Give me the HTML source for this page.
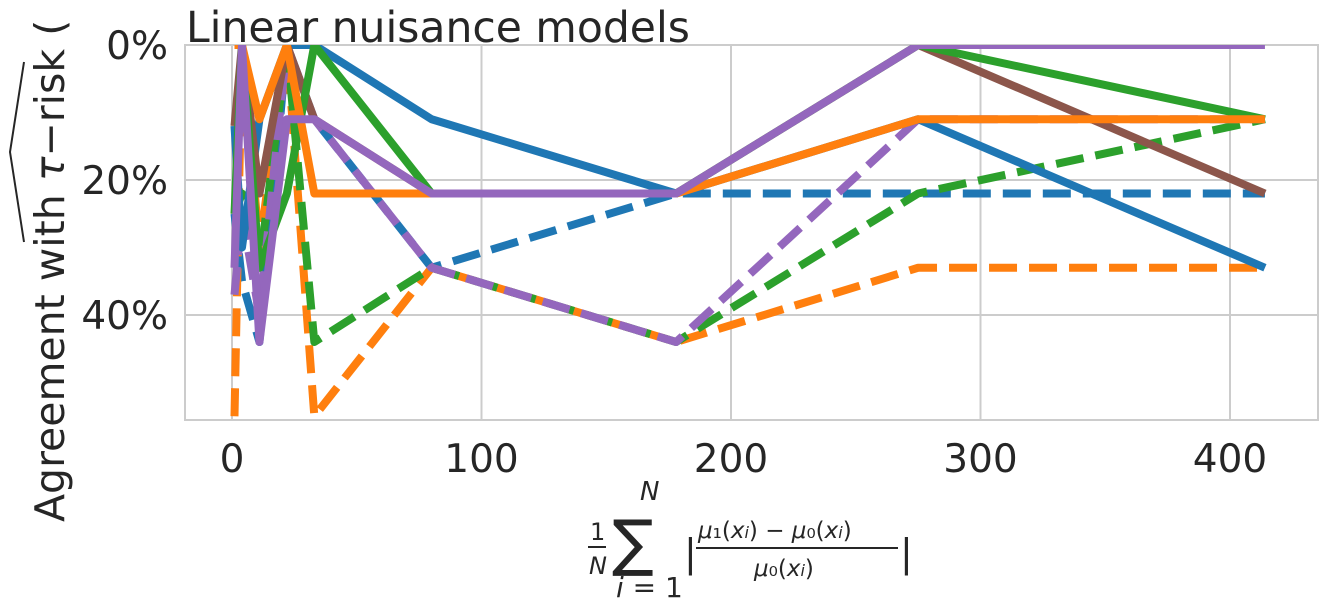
<!DOCTYPE html>
<html><head><meta charset="utf-8"><style>
body{margin:0;background:#fff;width:1328px;height:611px;overflow:hidden;font-family:"Liberation Sans","DejaVu Sans",sans-serif}
text{font-family:"DejaVu Sans","Liberation Sans",sans-serif;fill:#262626}
</style></head><body>
<svg id="chart" width="1328" height="611" viewBox="0 0 1328 611">
<defs><clipPath id="clip"><rect x="185" y="45" width="1133" height="375"/></clipPath></defs>
<g id="grid"></g>
<rect x="185" y="45" width="1133" height="375" fill="none" stroke="#ccc" stroke-width="2"/>
<g id="series" clip-path="url(#clip)"></g>
<g id="ticks"></g>
<text x="186" y="42" font-size="42.5">Linear nuisance models</text>
<g transform="translate(64,522) rotate(-90)">
<text x="0" y="0" font-size="41">Agreement with <tspan font-style="italic">τ</tspan>−risk (</text>
<path d="M280,-40 L370,-54 L460,-40" fill="none" stroke="#262626" stroke-width="2"/>
</g>
<g>
<text x="590" y="540" font-size="24">1</text>
<line x1="588" y1="547" x2="606" y2="547" stroke="#262626" stroke-width="2"/>
<text x="589" y="574" font-size="24" font-style="italic">N</text>
<text x="640" y="500" font-size="26" font-style="italic">N</text>
<text x="612" y="564" font-size="62">∑</text>
<text x="616" y="597" font-size="28"><tspan font-style="italic">i</tspan> = 1</text>
<text x="684" y="566" font-size="38">|</text>
<text x="698" y="538" font-size="23"><tspan font-style="italic">μ</tspan>₁(<tspan font-style="italic">x</tspan><tspan font-size="16" font-style="italic">i</tspan>) − <tspan font-style="italic">μ</tspan>₀(<tspan font-style="italic">x</tspan><tspan font-size="16" font-style="italic">i</tspan>)</text>
<line x1="696" y1="548" x2="898" y2="548" stroke="#262626" stroke-width="2"/>
<text x="754" y="576" font-size="23"><tspan font-style="italic">μ</tspan>₀(<tspan font-style="italic">x</tspan><tspan font-size="16" font-style="italic">i</tspan>)</text>
<text x="900" y="566" font-size="38">|</text>
</g>
</svg>
<script>
const xs = [1, 4, 11, 22, 33, 80, 178, 275, 414];
const blueSolid   = [12, 30, 11, 0, 0, 11, 22, 11, 33];
const greenSolid  = [25, 0, 33, 22, 0, 22, 22, 0, 11];
const orangeSolid = [0, 0, 11, 0, 22, 22, 22, 11, 11];
const brownSolid  = [12, 0, 22, 0, 11, 22, 22, 0, 22];
const purpleSolid = [33, 0, 44, 11, 11, 22, 22, 0, 0];
const blueDashed   = [25, 35, 44, 0, 11, 33, 22, 22, 22];
const orangeDashed = [55, 0, 30, 0, 55, 33, 44, 33, 33];
const greenDashed  = [25, 22, 33, 0, 44, 33, 44, 22, 11];
const purpleDashed = [37, 25, 40, 0, 11, 33, 44, 11, 11];
const xTicks = [0, 100, 200, 300, 400];
const yTicks = [0, 20, 40];
const X = v => 232 + v * 2.495;
const Y = v => 45 + v * 6.75;
const NS = "http://www.w3.org/2000/svg";
const grid = document.getElementById('grid'), ticks = document.getElementById('ticks'), ser = document.getElementById('series');
xTicks.forEach(t => {
  const l = document.createElementNS(NS, 'line');
  l.setAttribute('x1', X(t)); l.setAttribute('x2', X(t)); l.setAttribute('y1', 45); l.setAttribute('y2', 420);
  l.setAttribute('stroke', '#ccc'); l.setAttribute('stroke-width', 2);
  
  
  grid.appendChild(l);
  const tx = document.createElementNS(NS, 'text');
  tx.setAttribute('x', X(t)); tx.setAttribute('y', 472); tx.setAttribute('font-size', 39); tx.setAttribute('text-anchor', 'middle');
  tx.textContent = t;
  
  
  ticks.appendChild(tx);
});
yTicks.forEach(t => {
  const l = document.createElementNS(NS, 'line');
  l.setAttribute('x1', 185); l.setAttribute('x2', 1318); l.setAttribute('y1', Y(t)); l.setAttribute('y2', Y(t));
  l.setAttribute('stroke', '#ccc'); l.setAttribute('stroke-width', 2);
  
  
  grid.appendChild(l);
  const tx = document.createElementNS(NS, 'text');
  tx.setAttribute('x', 168); tx.setAttribute('y', Y(t) + 14); tx.setAttribute('font-size', 39); tx.setAttribute('text-anchor', 'end');
  tx.textContent = t + '%';
  
  
  ticks.appendChild(tx);
});
const series = [
  [blueDashed, '#1f77b4', true, 'blue-dashed-line'],
  [orangeDashed, '#ff7f0e', true, 'orange-dashed-line'],
  [greenDashed, '#2ca02c', true, 'green-dashed-line'],
  [purpleDashed, '#9467bd', true, 'purple-dashed-line'],
  [blueSolid, '#1f77b4', false, 'blue-solid-line'],
  [brownSolid, '#8c564b', false, 'brown-solid-line'],
  [greenSolid, '#2ca02c', false, 'green-solid-line'],
  [orangeSolid, '#ff7f0e', false, 'orange-solid-line'],
  [purpleSolid, '#9467bd', false, 'purple-solid-line']
];
series.forEach(([vals, col, dashed, name]) => {
  const p = document.createElementNS(NS, 'polyline');
  p.setAttribute('points', vals.map((v, i) => X(xs[i]) + ',' + Y(v)).join(' '));
  p.setAttribute('fill', 'none'); p.setAttribute('stroke', col); p.setAttribute('stroke-width', 8);
  p.setAttribute('stroke-linejoin', 'round');
  if (dashed) p.setAttribute('stroke-dasharray', '28 12');
  
  
  ser.appendChild(p);
});
</script>
</body></html>
